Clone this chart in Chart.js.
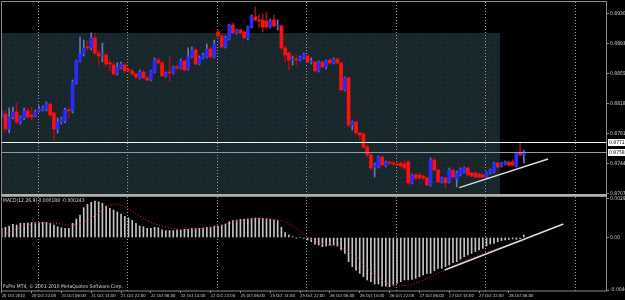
<!DOCTYPE html>
<html>
<head>
<meta charset="utf-8">
<script src="https://cdn.jsdelivr.net/npm/chart.js@4.4.1/dist/chart.umd.min.js"></script>
<style>
html,body{margin:0;padding:0;background:#000;}
#wrap{width:625px;height:300px;position:relative;}
</style>
</head>
<body>
<div id="wrap"><canvas id="c" width="625" height="300"></canvas></div>
<script>
// ── DATA (H1 candles, 20-28 Oct 2010) ─────────────────────────
var openP=[.88048,.88060,.87874,.88023,.88085,.87961,.88011,.88098,.88048,.88036,
.88098,.88110,.88122,.88184,.88073,.87874,.87961,.87974,.88110,.88098,
.88445,.88718,.88804,.88891,.88879,.89003,.88817,.88792,.88792,.88693,
.88668,.88569,.88631,.88668,.88606,.88594,.88556,.88507,.88581,.88507,
.88482,.88581,.88730,.88693,.88532,.88581,.88569,.88643,.88631,.88718,
.88618,.88767,.88854,.88680,.88755,.88767,.88866,.88767,.89077,.89028,
.88891,.88990,.89164,.89065,.89102,.89077,.89003,.89139,.89263,.89226,
.89226,.89214,.89139,.89226,.89152,.89152,.88879,.88817,.88730,.88742,
.88730,.88755,.88780,.88705,.88705,.88594,.88705,.88643,.88730,.88693,
.88742,.88693,.88358,.88507,.87924,.87961,.87825,.87812,.87651,.87552,
.87403,.87403,.87527,.87416,.87465,.87453,.87440,.87453,.87440,.87465,
.87205,.87304,.87304,.87292,.87267,.87180,.87490,.87366,.87217,.87267,
.87217,.87366,.87254,.87304,.87341,.87391,.87329,.87329,.87316,.87304,
.87279,.87329,.87341,.87453,.87416,.87440,.87465,.87465,.87416,.87577,
.87552];
var highP=[.88110,.88110,.88135,.88147,.88197,.88036,.88135,.88135,.88147,.88110,
.88160,.88160,.88209,.88197,.88085,.88011,.88023,.88135,.88135,.88482,
.88730,.89015,.88978,.88966,.89065,.89065,.88854,.88941,.88817,.88730,
.88705,.88693,.88705,.88693,.88631,.88618,.88569,.88606,.88606,.88532,
.88606,.88755,.88755,.88718,.88581,.88767,.88656,.88668,.88742,.88730,
.88879,.88891,.88879,.88780,.88817,.88928,.88891,.88978,.89102,.89052,
.89028,.89176,.89189,.89114,.89114,.89090,.89152,.89288,.89387,.89288,
.89300,.89325,.89238,.89288,.89226,.89164,.88904,.88829,.88780,.88792,
.88780,.88817,.88792,.88755,.88718,.88718,.88718,.88730,.88742,.88755,
.88755,.88705,.88519,.88519,.87974,.87974,.87837,.87825,.87676,.87577,
.87453,.87540,.87540,.87478,.87478,.87478,.87465,.87465,.87490,.87490,
.87316,.87316,.87329,.87304,.87279,.87515,.87515,.87378,.87279,.87279,
.87391,.87378,.87354,.87391,.87403,.87403,.87341,.87341,.87329,.87316,
.87341,.87378,.87465,.87465,.87465,.87478,.87478,.87490,.87589,.87713,
.87614];
var lowP=[.88023,.87837,.87825,.87998,.87936,.87936,.87986,.88011,.87986,.88023,
.88085,.88098,.88098,.88023,.87738,.87825,.87936,.87949,.88011,.88073,
.88432,.88705,.88780,.88854,.88854,.88792,.88668,.88705,.88656,.88594,
.88544,.88544,.88618,.88569,.88581,.88544,.88494,.88494,.88494,.88470,
.88470,.88569,.88680,.88519,.88519,.88457,.88556,.88606,.88618,.88594,
.88606,.88755,.88668,.88668,.88742,.88755,.88755,.88755,.89015,.88879,
.88879,.88978,.89052,.89052,.89052,.88990,.88978,.89127,.89214,.89127,
.89077,.89127,.89127,.89139,.89102,.88854,.88705,.88606,.88668,.88668,
.88718,.88742,.88693,.88680,.88581,.88581,.88631,.88618,.88680,.88680,
.88680,.88346,.88346,.87899,.87862,.87800,.87738,.87639,.87527,.87366,
.87279,.87391,.87416,.87403,.87428,.87416,.87416,.87391,.87366,.87180,
.87192,.87242,.87242,.87242,.87168,.87168,.87354,.87205,.87205,.87143,
.87205,.87267,.87155,.87292,.87329,.87292,.87279,.87267,.87267,.87267,
.87267,.87316,.87329,.87391,.87403,.87428,.87416,.87416,.87403,.87540,
.87453];
var closeP=[.88073,.87874,.88023,.88085,.87961,.88011,.88098,.88023,.88023,.88085,
.88122,.88135,.88184,.88048,.87874,.87961,.87998,.88110,.88098,.88457,
.88718,.88804,.88879,.88879,.89003,.88817,.88780,.88804,.88680,.88680,
.88556,.88643,.88680,.88594,.88600,.88556,.88519,.88581,.88507,.88482,
.88594,.88730,.88693,.88532,.88569,.88569,.88643,.88631,.88718,.88606,
.88767,.88854,.88680,.88755,.88792,.88866,.88767,.88928,.89028,.88891,
.89003,.89164,.89065,.89102,.89065,.89003,.89139,.89263,.89226,.89214,
.89139,.89139,.89214,.89152,.89164,.88879,.88792,.88730,.88742,.88730,
.88767,.88804,.88705,.88718,.88594,.88705,.88643,.88718,.88693,.88742,
.88693,.88358,.88507,.87924,.87961,.87825,.87800,.87651,.87552,.87391,
.87428,.87527,.87428,.87465,.87453,.87440,.87428,.87416,.87391,.87205,
.87304,.87267,.87267,.87267,.87180,.87490,.87366,.87217,.87267,.87205,
.87366,.87279,.87329,.87378,.87391,.87304,.87292,.87279,.87279,.87279,
.87329,.87366,.87453,.87403,.87453,.87465,.87428,.87428,.87577,.87552,
.87589];

var macdMain=[0.00070,0.00078,0.00088,0.00101,0.00096,0.00109,0.00109,0.00111,0.00114,0.00114,
0.00114,0.00116,0.00114,0.00109,0.00096,0.00083,0.00075,0.00070,0.00070,0.00109,
0.00142,0.00173,0.00229,0.00255,0.00270,0.00280,0.00273,0.00263,0.00242,0.00224,
0.00211,0.00196,0.00180,0.00163,0.00150,0.00132,0.00109,0.00088,0.00083,0.00070,
0.00070,0.00078,0.00075,0.00058,0.00053,0.00053,0.00053,0.00058,0.00058,0.00063,
0.00063,0.00070,0.00070,0.00070,0.00073,0.00078,0.00080,0.00088,0.00088,0.00096,
0.00104,0.00121,0.00129,0.00134,0.00139,0.00142,0.00144,0.00147,0.00150,0.00150,
0.00147,0.00144,0.00139,0.00134,0.00129,0.00078,0.00037,0.00019,0.00006,-0.00002,
0.00000,-0.00006,-0.00019,-0.00032,-0.00052,-0.00058,-0.00070,-0.00065,-0.00058,-0.00058,
-0.00065,-0.00096,-0.00122,-0.00186,-0.00224,-0.00250,-0.00275,-0.00301,-0.00326,-0.00339,
-0.00357,-0.00357,-0.00373,-0.00373,-0.00378,-0.00365,-0.00352,-0.00339,-0.00326,-0.00326,
-0.00321,-0.00314,-0.00301,-0.00288,-0.00275,-0.00275,-0.00255,-0.00237,-0.00237,-0.00224,
-0.00211,-0.00193,-0.00186,-0.00168,-0.00147,-0.00134,-0.00122,-0.00109,-0.00096,-0.00083,
-0.00065,-0.00050,-0.00045,-0.00032,-0.00024,-0.00019,-0.00014,-0.00011,-0.00014,-0.00009,
0.000188];
var macdSignal=[0.00010,0.00025,0.00040,0.00055,0.00068,0.00080,0.00089,0.00097,0.00103,0.00108,
0.00111,0.00113,0.00114,0.00112,0.00110,0.00107,0.00103,0.00099,0.00096,0.00097,
0.00102,0.00108,0.00120,0.00134,0.00150,0.00168,0.00190,0.00210,0.00230,0.00245,
0.00255,0.00257,0.00250,0.00235,0.00220,0.00202,0.00183,0.00163,0.00147,0.00132,
0.00118,0.00106,0.00096,0.00087,0.00079,0.00073,0.00068,0.00064,0.00063,0.00062,
0.00063,0.00064,0.00066,0.00068,0.00070,0.00074,0.00076,0.00079,0.00085,0.00094,
0.00103,0.00110,0.00118,0.00125,0.00131,0.00136,0.00140,0.00143,0.00145,0.00146,
0.00146,0.00145,0.00143,0.00140,0.00137,0.00130,0.00120,0.00105,0.00088,0.00070,
0.00050,0.00025,0.00004,-0.00012,-0.00026,-0.00038,-0.00047,-0.00055,-0.00060,-0.00064,
-0.00068,-0.00078,-0.00090,-0.00108,-0.00128,-0.00148,-0.00175,-0.00205,-0.00235,-0.00265,
-0.00290,-0.00310,-0.00328,-0.00345,-0.00357,-0.00365,-0.00370,-0.00370,-0.00368,-0.00365,
-0.00360,-0.00351,-0.00340,-0.00327,-0.00314,-0.00301,-0.00288,-0.00274,-0.00260,-0.00246,
-0.00233,-0.00219,-0.00205,-0.00192,-0.00180,-0.00168,-0.00157,-0.00146,-0.00135,-0.00124,
-0.00114,-0.00104,-0.00094,-0.00085,-0.00076,-0.00067,-0.00058,-0.00049,-0.00040,-0.00032,
-0.00024];

var timeLabels=['20 Oct 2010','20 Oct 22:00','21 Oct 06:00','21 Oct 14:00','21 Oct 22:00','22 Oct 06:00',
  '22 Oct 14:00','22 Oct 22:00','25 Oct 06:00','25 Oct 14:00','25 Oct 22:00','26 Oct 06:00',
  '26 Oct 14:00','26 Oct 22:00','27 Oct 06:00','27 Oct 14:00','27 Oct 22:00','28 Oct 06:00'];
var labelBars=[0,8,16,24,32,40,48,56,64,72,80,88,96,104,112,120,128,136];
var dayStarts=[10,34,58,82,106,130,154];
var priceTicks=[0.89302,0.89116,0.88930,0.88744,0.88558,0.88372,0.88186,0.88000,0.87814,0.87628,0.87442,0.87256,0.87070];
var macdTicks=[0.002994,0,-0.004031];

// chart objects (rectangle, horizontal lines, trend lines)
var boxBars=[-1,133.6], boxTopPrice=0.89065;
var hLinePrice=0.87713, bidPrice=0.87589;
var trendBars=[122.7,146.5], trendPrices=[0.87147,0.87502];
var macdTrendBars=[118.8,150.6], macdTrendVals=[-0.00250,0.00104];

var BULL='#2a2aff', BEAR='#ff1010', BULL_W='#6a78b0', BEAR_W='#a01010';
var FONT='"Liberation Sans Narrow", "DejaVu Sans Condensed", "Liberation Sans", Arial, sans-serif';
var idx=openP.map(function(_,i){return i;});
function isBull(i){return closeP[i]>=openP[i];}

// rectangle fill pattern (dithered look)
var pc=document.createElement('canvas');pc.width=6;pc.height=5;
var pctx=pc.getContext('2d');
pctx.fillStyle='#17272b';pctx.fillRect(0,0,6,5);
pctx.fillStyle='#1f3646';pctx.fillRect(2,2,1,1);

function noPad(s){s.paddingLeft=0;s.paddingRight=0;s.paddingTop=0;s.paddingBottom=0;}

var mt4={
  id:'mt4',
  beforeDraw:function(ch){
    var c=ch.ctx;c.save();c.fillStyle='#000';c.fillRect(0,0,ch.width,ch.height);c.restore();
  },
  beforeDatasetsDraw:function(ch){
    var c=ch.ctx,X=ch.scales.x,Y=ch.scales.y,Y2=ch.scales.y2;
    c.save();
    var x1=Math.max(X.left,X.getPixelForValue(boxBars[0])),x2=X.getPixelForValue(boxBars[1]);
    var y1=Math.round(Y.getPixelForValue(boxTopPrice));
    c.fillStyle=c.createPattern(pc,'repeat');
    c.fillRect(x1,y1,x2-x1,Y.bottom-y1);
    // day grid
    c.strokeStyle='#9a9a9a';c.lineWidth=1;c.setLineDash([1,2]);
    dayStarts.forEach(function(d){
      var px=Math.round(X.getPixelForValue(d-0.35))+0.5;
      c.beginPath();c.moveTo(px,Y.top);c.lineTo(px,Y2.bottom);c.stroke();
    });
    c.restore();
  },
  afterDatasetsDraw:function(ch){
    var c=ch.ctx,X=ch.scales.x,Y=ch.scales.y,Y2=ch.scales.y2;
    c.save();
    var hy=Math.round(Y.getPixelForValue(hLinePrice))+0.5;
    var by=Math.round(Y.getPixelForValue(bidPrice))+0.5;
    c.strokeStyle='#f0f0f0';c.lineWidth=1;
    c.beginPath();c.moveTo(X.left,hy);c.lineTo(X.right,hy);c.stroke();
    c.strokeStyle='#8c9cb0';
    c.beginPath();c.moveTo(X.left,by);c.lineTo(X.right,by);c.stroke();
    // frames
    c.strokeStyle='#8a8a8a';
    c.strokeRect(X.left+0.5,Y.top-0.5,X.right-X.left-1,Y.bottom-Y.top);
    c.strokeRect(X.left+0.5,Y2.top+1.5,X.right-X.left-1,Y2.bottom-Y2.top-1.5);
    c.fillStyle='#b0b0b0';c.fillRect(X.left,Y.bottom-1,X.right-X.left,2);
    // texts
    c.font='5px '+FONT;c.textBaseline='middle';c.fillStyle='#d8d8d8';
    c.fillText('MACD(12,26,9) 0.000188 -0.000243',3,Y2.top+6);
    c.fillText('FxPro MT4, \u00a9 2001-2010 MetaQuotes Software Corp.',3,Y2.bottom-4);
    [[hy,hLinePrice],[by,bidPrice]].forEach(function(m){
      c.fillStyle='#ffffff';c.fillRect(X.right+1,m[0]-3.5,18,7);
      c.fillStyle='#000';c.fillText(m[1].toFixed(5),X.right+2,m[0]);
    });
    c.restore();
  }
};

var tickFont={family:FONT,size:5};
new Chart(document.getElementById('c').getContext('2d'),{
  type:'bar',
  data:{datasets:[
    {type:'line',label:'trend',yAxisID:'y',order:0,
     data:trendBars.map(function(b,i){return {x:b,y:trendPrices[i]};}),
     borderColor:'#dcdcdc',borderWidth:1.5,pointRadius:0},
    {type:'line',label:'macdTrend',yAxisID:'y2',order:0,
     data:macdTrendBars.map(function(b,i){return {x:b,y:macdTrendVals[i]};}),
     borderColor:'#dcdcdc',borderWidth:1.5,pointRadius:0},
    {label:'body',yAxisID:'y',order:1,grouped:false,barThickness:3,minBarLength:1,
     data:idx.map(function(i){return {x:i,y:[Math.min(openP[i],closeP[i]),Math.max(openP[i],closeP[i])]};}),
     backgroundColor:idx.map(function(i){return isBull(i)?BULL:BEAR;})},
    {label:'wick',yAxisID:'y',order:2,grouped:false,barThickness:1,
     data:idx.map(function(i){return {x:i,y:[lowP[i],highP[i]]};}),
     backgroundColor:idx.map(function(i){return isBull(i)?BULL_W:BEAR_W;})},
    {type:'line',label:'signal',yAxisID:'y2',order:1,
     data:idx.map(function(i){return {x:i,y:macdSignal[i]};}),
     borderColor:'#ff2020',borderWidth:1,borderDash:[1,2],pointRadius:0},
    {label:'macd',yAxisID:'y2',order:2,grouped:false,barThickness:1,
     data:idx.map(function(i){return {x:i,y:macdMain[i]};}),
     backgroundColor:'#c4c4c4'}
  ]},
  options:{
    responsive:false,animation:false,devicePixelRatio:1,
    layout:{padding:{left:1,top:2,right:0,bottom:0}},
    plugins:{legend:{display:false},tooltip:{enabled:false}},
    scales:{
      x:{type:'linear',position:'bottom',offset:false,min:-0.19,max:162.3,
        grid:{drawOnChartArea:false,offset:false,tickLength:2,color:'#8a8a8a'},border:{display:false},
        afterBuildTicks:function(s){s.ticks=labelBars.map(function(v){return {value:v};});},
        afterFit:function(s){s.height=9;noPad(s);},
        ticks:{autoSkip:false,maxRotation:0,align:'start',padding:0,color:'#d0d0d0',font:{family:FONT,size:4.2},
          callback:function(v){var k=labelBars.indexOf(v);return k<0?'':timeLabels[k];}}},
      y:{type:'linear',position:'right',stack:'pane',stackWeight:193,min:0.87056,max:0.89449,
        grid:{drawOnChartArea:false,tickLength:2,color:'#8a8a8a'},border:{display:false},
        afterBuildTicks:function(s){s.ticks=priceTicks.map(function(v){return {value:v};});},
        afterFit:function(s){s.width=18;noPad(s);},
        ticks:{padding:1,color:'#d0d0d0',font:tickFont,callback:function(v){return v.toFixed(5);}}},
      y2:{type:'linear',position:'right',stack:'pane',stackWeight:96,min:-0.004107,max:0.003263,
        grid:{drawOnChartArea:false,tickLength:2,color:'#8a8a8a'},border:{display:false},
        afterBuildTicks:function(s){s.ticks=macdTicks.map(function(v){return {value:v};});},
        afterFit:function(s){s.width=18;noPad(s);},
        ticks:{padding:1,color:'#d0d0d0',font:tickFont,callback:function(v){return v===0?'0.00':v.toFixed(6);}}}
    }
  },
  plugins:[mt4]
});
</script>
</body>
</html>
